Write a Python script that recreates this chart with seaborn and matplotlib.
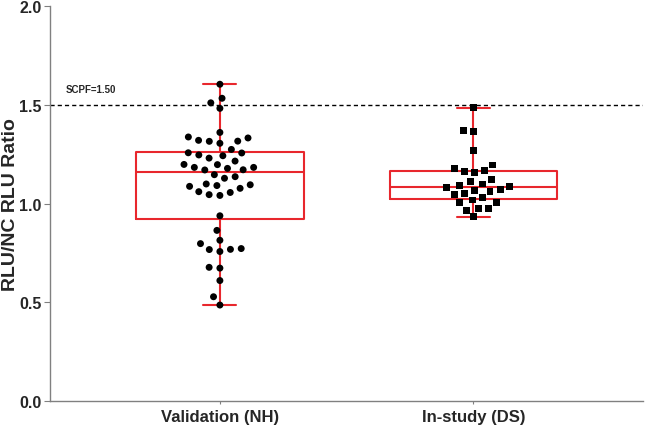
import matplotlib
matplotlib.use("Agg")
import matplotlib.pyplot as plt
import seaborn as sns
import numpy as np
import pandas as pd

categories = ["Validation (NH)", "In-study (DS)"]

validation_nh = [1.604, 1.533, 1.510, 1.482, 1.360, 1.332, 1.315, 1.305, 1.316, 1.320,
                 1.337, 1.274, 1.256, 1.242, 1.230, 1.246, 1.257, 1.198, 1.183, 1.178,
                 1.170, 1.171, 1.183, 1.197, 1.215, 1.136, 1.128, 1.146, 1.091, 1.077,
                 1.099, 1.095, 1.087, 1.056, 1.041, 1.045, 1.060, 0.938, 0.864, 0.814,
                 0.797, 0.772, 0.767, 0.757, 0.768, 0.673, 0.677, 0.610, 0.528, 0.486]

instudy_ds = [1.485, 1.365, 1.370, 1.267, 1.195, 1.178, 1.165, 1.157, 1.162, 1.124,
              1.112, 1.099, 1.087, 1.092, 1.072, 1.063, 1.067, 1.081, 1.051, 1.046,
              1.031, 1.018, 1.004, 1.004, 0.977, 0.967, 0.977, 0.933]

cutpoint = 1.50
cutpoint_label = "SCPF=1.50"
y_ticks = [0.0, 0.5, 1.0, 1.5, 2.0]
y_label = "RLU/NC RLU Ratio"

df = pd.DataFrame({
    "group": [categories[0]] * len(validation_nh) + [categories[1]] * len(instudy_ds),
    "value": validation_nh + instudy_ds,
})

sns.set_style("ticks")
plt.rcParams["font.family"] = ["Liberation Sans", "DejaVu Sans"]

fig = plt.figure(figsize=(6.45, 4.27), dpi=100)
ax = fig.add_axes([0.0775, 0.0585, 0.92, 0.925])

red = "#e8272d"

# swarms (edge width is invisible but widens spacing like the reference)
sns.swarmplot(data=df[df.group == categories[0]], x="group", y="value", order=categories,
              color="black", size=5.0, marker="o", edgecolor="none", linewidth=2.4,
              ax=ax, zorder=3)
sns.swarmplot(data=df[df.group == categories[1]], x="group", y="value", order=categories,
              color="black", size=5.0, marker="s", edgecolor="none", linewidth=2.0,
              ax=ax, zorder=3)

# box: quartiles computed GraphPad-style ((n+1)p), whiskers min..max
stats = []
for vals, name in zip([validation_nh, instudy_ds], categories):
    v = np.asarray(vals)
    q1, med, q3 = np.percentile(v, [25, 50, 75], method="weibull")
    stats.append(dict(label=name, med=med, q1=q1, q3=q3,
                      whislo=v.min(), whishi=v.max(), fliers=[]))
lp = dict(color=red, linewidth=1.5)
ax.bxp(stats, positions=[0, 1], widths=0.66, capwidths=0.13, showfliers=False,
       boxprops=lp, whiskerprops=lp, capprops=lp, medianprops=lp,
       manage_ticks=False, zorder=1)

ax.axhline(cutpoint, color="black", linestyle=(0, (3, 2.2)), linewidth=1.0, zorder=2)
ax.text(-0.61, cutpoint + 0.055, cutpoint_label, fontsize=7, fontweight="bold",
        ha="left", va="bottom")

ax.set_xlim(-0.67, 1.67)
ax.set_ylim(0, 2.0)
ax.set_yticks(y_ticks)
ax.set_yticklabels([f"{t:.1f}" for t in y_ticks], fontsize=11.5, fontweight="bold")
ax.set_xticks([0, 1])
ax.set_xticklabels(categories, fontsize=12, fontweight="bold")
ax.set_xlabel("")
ax.set_ylabel(y_label, fontsize=14, fontweight="bold")
ax.yaxis.set_label_coords(-0.053, 0.5)
sns.despine(ax=ax)
for s in ["left", "bottom"]:
    ax.spines[s].set_color("#808080")
    ax.spines[s].set_linewidth(1.0)
ax.tick_params(axis="y", length=4, color="#808080", pad=2)
ax.tick_params(axis="x", length=2, color="#808080", pad=4)

fig.savefig("out.png", dpi=100)
